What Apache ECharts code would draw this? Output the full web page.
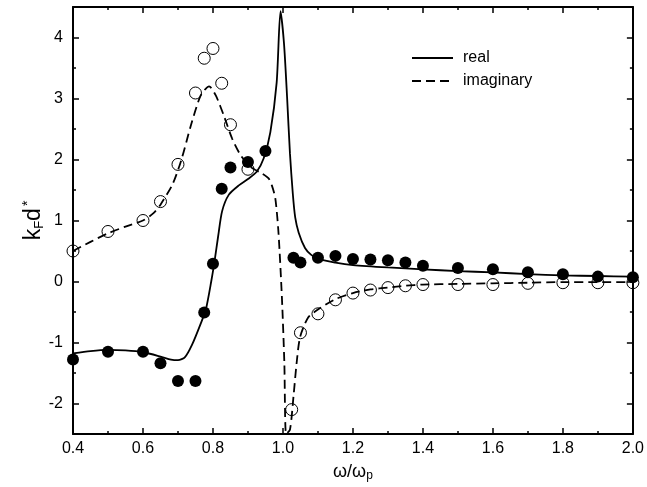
<!DOCTYPE html>
<html>
<head>
<meta charset="utf-8">
<script src="https://cdn.jsdelivr.net/npm/echarts@6/dist/echarts.min.js"></script>
<style>
  html, body { margin: 0; padding: 0; background: #fff; }
  #chart { width: 647px; height: 487px; }
</style>
</head>
<body>
<div id="chart"></div>
<script>
  // theory curves [omega/omega_p, kF d*]
  var realCurve = [
    [0.40, -1.18], [0.45, -1.14], [0.50, -1.12], [0.55, -1.13], [0.60, -1.16],
    [0.65, -1.23], [0.68, -1.28], [0.70, -1.29], [0.72, -1.24], [0.74, -1.04],
    [0.765, -0.69], [0.78, -0.45], [0.795, 0.0], [0.805, 0.35], [0.815, 0.75],
    [0.826, 1.15], [0.845, 1.42], [0.875, 1.58], [0.90, 1.68], [0.925, 1.80],
    [0.945, 2.02], [0.964, 2.45], [0.982, 3.26], [0.993, 4.43], [1.003, 3.9],
    [1.012, 3.0], [1.02, 2.1], [1.028, 1.45], [1.035, 1.05], [1.045, 0.80],
    [1.063, 0.55], [1.08, 0.44], [1.10, 0.37], [1.15, 0.31], [1.20, 0.27],
    [1.30, 0.23], [1.40, 0.20], [1.50, 0.17], [1.60, 0.15], [1.70, 0.12],
    [1.80, 0.10], [1.90, 0.09], [2.00, 0.08]
  ];
  var imagCurve = [
    [0.40, 0.50], [0.45, 0.65], [0.50, 0.79], [0.55, 0.90], [0.60, 1.00],
    [0.63, 1.12], [0.65, 1.26], [0.685, 1.60], [0.71, 2.0], [0.737, 2.56],
    [0.765, 3.05], [0.789, 3.20], [0.808, 3.05], [0.831, 2.72], [0.855, 2.34],
    [0.879, 2.07], [0.907, 1.88], [0.94, 1.77], [0.959, 1.69], [0.968, 1.58],
    [0.978, 1.37], [0.987, 0.82], [0.997, -0.26], [1.004, -1.34], [1.009, -2.5],
    [1.02, -2.43], [1.03, -1.89], [1.039, -1.34], [1.049, -0.91], [1.072, -0.59],
    [1.10, -0.46], [1.15, -0.29], [1.20, -0.19], [1.25, -0.13], [1.30, -0.10],
    [1.35, -0.07], [1.40, -0.05], [1.50, -0.04], [1.60, -0.03], [1.70, -0.02],
    [1.80, -0.01], [1.90, -0.01], [2.00, -0.01]
  ];

  // measured points
  var realPoints = [
    [0.40, -1.28], [0.50, -1.15], [0.60, -1.15], [0.65, -1.34], [0.70, -1.63],
    [0.75, -1.63], [0.775, -0.51], [0.80, 0.29], [0.825, 1.52], [0.85, 1.87],
    [0.90, 1.96], [0.95, 2.14], [1.03, 0.39], [1.05, 0.31], [1.10, 0.39],
    [1.15, 0.42], [1.20, 0.37], [1.25, 0.36], [1.30, 0.35], [1.35, 0.31],
    [1.40, 0.26], [1.50, 0.22], [1.60, 0.20], [1.70, 0.15], [1.80, 0.12],
    [1.90, 0.08], [2.00, 0.07]
  ];
  var imagPoints = [
    [0.40, 0.50], [0.50, 0.82], [0.60, 1.00], [0.65, 1.31], [0.70, 1.92],
    [0.75, 3.09], [0.775, 3.66], [0.80, 3.82], [0.825, 3.25], [0.85, 2.57],
    [0.90, 1.84], [1.025, -2.10], [1.05, -0.84], [1.10, -0.53], [1.15, -0.30],
    [1.20, -0.19], [1.25, -0.14], [1.30, -0.10], [1.35, -0.07], [1.40, -0.05],
    [1.50, -0.05], [1.60, -0.05], [1.70, -0.03], [1.80, -0.02], [1.90, -0.02],
    [2.00, -0.02]
  ];

  var yMajorTicks = [-2, -1, 0, 1, 2, 3, 4];
  var yMinorTicks = [-1.5, -0.5, 0.5, 1.5, 2.5, 3.5];

  var font = 'Liberation Sans, Arial, sans-serif';
  var black = '#000';

  function xAxis (pos) {
    return {
      type: 'value', position: pos, min: 0.4, max: 2.0, interval: 0.2,
      axisLine: {show: true, onZero: false, lineStyle: {color: black, width: 2}},
      axisTick: {show: true, inside: true, length: 6, lineStyle: {color: black, width: 1.5}},
      minorTick: {show: true, splitNumber: 2, length: 3, lineStyle: {color: black, width: 1.5}},
      splitLine: {show: false},
      minorSplitLine: {show: false},
      axisLabel: {
        show: pos === 'bottom', color: black, fontSize: 16, fontFamily: font, margin: 7,
        formatter: function (v) { return v.toFixed(1) }
      }
    }
  }

  function yAxis (pos, ticks, len, labels, line) {
    return {
      type: 'value', position: pos, min: -2.5, max: 4.5, interval: 0.5,
      axisLine: {show: line, onZero: false, lineStyle: {color: black, width: 2}},
      axisTick: {show: true, inside: true, length: len, customValues: ticks, lineStyle: {color: black, width: 1.5}},
      splitLine: {show: false},
      axisLabel: {show: labels, customValues: yMajorTicks, color: black, fontSize: 16, fontFamily: font, margin: 10}
    }
  }

  var chart = echarts.init(document.getElementById('chart'))

  var xBottom = xAxis('bottom')
  xBottom.name = '{a|ω/ω}{s|p}'
  xBottom.nameLocation = 'middle'
  xBottom.nameGap = 28
  xBottom.nameTextStyle = {
    color: black, fontFamily: font,
    rich: {
      a: {fontSize: 18, fontFamily: font, color: black},
      s: {fontSize: 12, fontFamily: font, color: black, verticalAlign: 'bottom', padding: [8, 0, 0, 0]}
    }
  }

  var yLeft = yAxis('left', yMajorTicks, 6, true, true)
  yLeft.name = '{a|k}{s|F}{a|d}{p|*}'
  yLeft.nameLocation = 'middle'
  yLeft.nameRotate = 90
  yLeft.nameGap = 27
  yLeft.nameMoveOverlap = false
  yLeft.nameTextStyle = {
    color: black, fontFamily: font,
    rich: {
      a: {fontSize: 23, fontFamily: font, color: black},
      s: {fontSize: 13, fontFamily: font, color: black, verticalAlign: 'bottom', padding: [11, 0, 0, 0]},
      p: {fontSize: 14, fontFamily: font, color: black, verticalAlign: 'top', padding: [0, 0, 11, 2]}
    }
  }

  chart.setOption({
    animation: false,
    backgroundColor: '#fff',
    grid: {left: 73, right: 10, top: 7, bottom: 50},
    legend: {
      data: ['real', 'imaginary'],
      orient: 'vertical',
      left: 406, top: 45,
      itemWidth: 41, itemHeight: 14, itemGap: 7,
      itemStyle: {opacity: 0},
      textStyle: {color: black, fontSize: 16, fontFamily: font, padding: [0, 0, 0, 5]}
    },
    xAxis: [xBottom, xAxis('top')],
    yAxis: [
      yLeft,
      yAxis('left', yMinorTicks, 3, false, false),
      yAxis('right', yMajorTicks, 6, false, true),
      yAxis('right', yMinorTicks, 3, false, false)
    ],
    series: [
      {
        name: 'real', type: 'line', data: realCurve, symbol: 'none', smooth: 0.25,
        lineStyle: {color: black, width: 1.8}, itemStyle: {color: black}, z: 2
      },
      {
        name: 'imaginary', type: 'line', data: imagCurve, symbol: 'none', smooth: 0.25,
        lineStyle: {color: black, width: 1.8, type: [9, 5]}, itemStyle: {color: black}, z: 2
      },
      {
        name: 'real data', type: 'scatter', data: realPoints, symbol: 'circle', symbolSize: 12,
        itemStyle: {color: black, opacity: 1}, z: 3
      },
      {
        name: 'imag data', type: 'scatter', data: imagPoints, symbol: 'circle', symbolSize: 12,
        itemStyle: {color: 'rgba(0,0,0,0)', borderColor: black, borderWidth: 1, opacity: 1}, z: 3
      }
    ]
  })
</script>
</body>
</html>
